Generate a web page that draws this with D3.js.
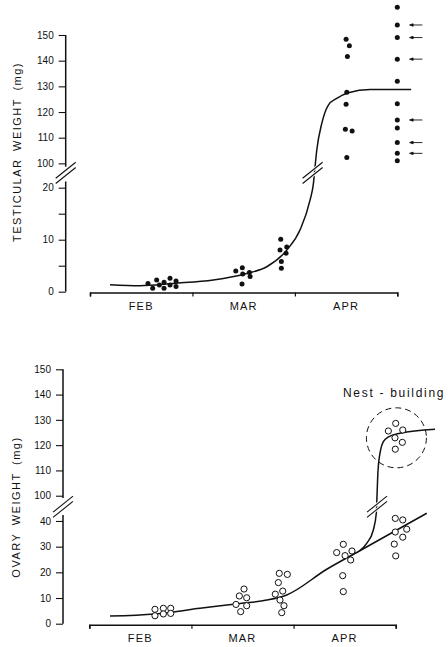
<!DOCTYPE html>
<html>
<head>
<meta charset="utf-8">
<script src="https://cdn.jsdelivr.net/npm/d3@7"></script>
<style>
  body { margin: 0; background: #fff; }
  svg { display: block; font-family: "Liberation Sans", Arial, sans-serif; }
</style>
</head>
<body>
<div id="chart"></div>
<script>
const monthLabels = ["FEB", "MAR", "APR"];
const monthTicks = [0, 1, 2, 3];

const testisTicks = [0, 5, 10, 15, 20, 100, 110, 120, 130, 140, 150];
const ovaryTicks = [0, 10, 20, 30, 40, 100, 110, 120, 130, 140, 150];

// [month position, weight mg]
const testisDots = [
  [0.566, 1.6], [0.612, 0.65], [0.651, 2.25], [0.677, 1.3], [0.723, 1.8],
  [0.723, 0.65], [0.781, 2.6], [0.781, 1.3], [0.84, 2.05], [0.84, 1.0],
  [1.423, 4.0], [1.487, 4.6], [1.491, 3.4], [1.556, 3.7], [1.563, 2.9], [1.484, 1.5],
  [1.862, 10.1], [1.855, 8.0], [1.921, 8.6], [1.914, 7.4], [1.868, 5.8], [1.868, 4.5],
  [2.5, 148.3], [2.532, 145.8], [2.513, 141.6], [2.507, 127.7], [2.5, 123.0],
  [2.493, 113.3], [2.559, 112.6], [2.507, 102.3],
  [3.0, 160.8], [3.0, 153.9], [3.0, 149.0], [3.0, 140.6], [3.0, 132.0], [3.0, 123.2],
  [3.0, 116.9], [3.0, 113.8], [3.0, 108.1], [3.0, 103.9], [3.0, 101.0]
];
const testisArrows = [153.9, 149.0, 140.6, 116.9, 108.1, 103.9];
const testisCurve = [
  [0.195, 1.35], [0.488, 1.15], [0.813, 1.6], [1.204, 2.25], [1.53, 3.5],
  [1.726, 4.8], [1.921, 8.0], [2.051, 11.9], [2.148, 17.6], [2.181, 20.8],
  [2.197, 98.7], [2.214, 105.2], [2.263, 115.6], [2.327, 122.7], [2.409, 125.3],
  [2.522, 127.5], [2.734, 128.8], [3.135, 128.8]
];

const ovaryDots = [
  [0.643, 5.6], [0.643, 3.1], [0.725, 6.0], [0.725, 3.8], [0.797, 6.0], [0.797, 4.0],
  [1.436, 7.5], [1.469, 10.8], [1.515, 13.5], [1.541, 10.1], [1.541, 7.0], [1.482, 4.7],
  [1.860, 19.6], [1.939, 19.2], [1.851, 16.0], [1.894, 12.7], [1.821, 11.5],
  [1.867, 9.2], [1.906, 7.0], [1.884, 4.3],
  [2.422, 27.7], [2.487, 30.9], [2.504, 26.5], [2.572, 28.3], [2.559, 24.8],
  [2.481, 18.7], [2.487, 12.5],
  [2.996, 41.0], [3.069, 40.4], [2.996, 35.7], [3.108, 36.8], [2.986, 31.0],
  [3.069, 33.7], [3.0, 26.4],
  [3.0, 128.6], [2.928, 125.6], [3.069, 126.0], [2.993, 122.9], [3.065, 121.1], [2.996, 118.4]
];
const ovaryCurve = [
  [0.203, 3.0], [0.643, 3.8], [1.084, 6.0], [1.476, 7.9], [1.737, 9.2],
  [1.933, 11.2], [2.325, 21.2], [2.644, 28.3], [3.304, 43.0]
];
const ovaryBranch = [
  [2.644, 28.3], [2.716, 31.3], [2.781, 36.5], [2.81, 43.0], [2.817, 100],
  [2.827, 110], [2.852, 118], [2.881, 121.5], [2.93, 123.3], [3.042, 124.7], [3.385, 126.3]
];
const nestCentre = [3.007, 122.9];

const W = 448, H = 647;
const ink = "#111";

const svg = d3.select("#chart").append("svg")
  .attr("width", W)
  .attr("height", H);

function breakMark(g, cx, cy, half) {
  [-2.6, 2.6].forEach(off => {
    g.append("line")
      .attr("x1", cx - half).attr("y1", cy + half * 0.8 + off)
      .attr("x2", cx + half).attr("y2", cy - half * 0.8 + off)
      .attr("stroke", "#fff").attr("stroke-width", 3);
  });
  [-2.6, 2.6].forEach(off => {
    g.append("line")
      .attr("x1", cx - half).attr("y1", cy + half * 0.8 + off)
      .attr("x2", cx + half).attr("y2", cy - half * 0.8 + off)
      .attr("stroke", ink).attr("stroke-width", 1.1);
  });
}

function panel(o) {
  const g = svg.append("g");
  const x = o.x, y = o.y;

  // y axis, two pieces
  const ax = g.append("g")
    .attr("transform", `translate(${o.axisX},0)`)
    .call(d3.axisLeft(y).tickValues(o.yTicks).tickSize(7).tickPadding(5)
      .tickFormat(d => d % 10 === 0 ? d : ""));
  ax.select(".domain").remove();
  ax.selectAll("line").attr("stroke", ink).attr("stroke-width", 1.1);
  ax.selectAll("text").attr("font-size", 10).attr("fill", ink);

  [[0, o.lowTop], [o.highBottom, 150]].forEach(([a, b]) => {
    g.append("line")
      .attr("x1", o.axisX).attr("x2", o.axisX)
      .attr("y1", y(a)).attr("y2", y(b))
      .attr("stroke", ink).attr("stroke-width", 1.5);
  });
  breakMark(g, o.axisX, y(o.gapMid), 10);

  // x axis
  const bx = g.append("g")
    .attr("transform", `translate(0,${o.axisY})`)
    .call(d3.axisBottom(x).tickValues(monthTicks).tickSize(4).tickFormat(""));
  bx.select(".domain").attr("stroke", ink).attr("stroke-width", 1.5);
  bx.selectAll("line").attr("stroke", ink).attr("stroke-width", 1.2);

  g.selectAll(".month")
    .data(monthLabels)
    .enter().append("text")
    .attr("x", (d, i) => x(i + 0.5))
    .attr("y", o.axisY + 17)
    .attr("text-anchor", "middle")
    .attr("font-size", 11)
    .attr("letter-spacing", 1.2)
    .attr("fill", ink)
    .text(d => d);

  g.append("text")
    .attr("transform", `translate(${o.titleX},${o.titleY}) rotate(-90)`)
    .attr("text-anchor", "middle")
    .attr("dy", "0.35em")
    .attr("font-size", 11)
    .attr("letter-spacing", o.titleSpacing)
    .attr("word-spacing", 3)
    .attr("fill", ink)
    .text(o.title);

  const line = d3.line()
    .x(d => x(d[0]))
    .y(d => y(d[1]))
    .curve(d3.curveMonotoneX);

  o.curves.forEach(c => {
    g.append("path")
      .datum(c)
      .attr("d", line)
      .attr("fill", "none")
      .attr("stroke", ink)
      .attr("stroke-width", 1.5);
  });
  breakMark(g, x(o.curveBreakX), y(o.gapMid), 10);

  return g;
}

// ---- testis ----
const xT = d3.scaleLinear().domain([0, 3]).range([90, 397.3]);
const yT = d3.scaleLinear().domain([0, 22, 98, 150]).range([291.7, 177.3, 168.5, 35]);

const gT = panel({
  x: xT, y: yT, axisX: 65.7, axisY: 292.5,
  yTicks: testisTicks, lowTop: 21.2, highBottom: 98.7, gapMid: 60,
  title: "TESTICULAR WEIGHT (mg)", titleX: 17.5, titleY: 152, titleSpacing: 1.5,
  curves: [testisCurve], curveBreakX: 2.173
});

gT.selectAll(".dot")
  .data(testisDots)
  .enter().append("circle")
  .attr("cx", d => xT(d[0]))
  .attr("cy", d => yT(d[1]))
  .attr("r", 2.5)
  .attr("fill", ink);

gT.selectAll(".arrow")
  .data(testisArrows)
  .enter().append("path")
  .attr("d", d => {
    const x0 = xT(3.12), x1 = xT(3.245), yy = yT(d);
    return `M${x1},${yy}H${x0 + 2}M${x0},${yy}l3.5,-1.2v2.4z`;
  })
  .attr("stroke", ink)
  .attr("stroke-width", 0.9)
  .attr("fill", ink);

// ---- ovary ----
const xO = d3.scaleLinear().domain([0, 3]).range([89.3, 395.7]);
const yO = d3.scaleLinear().domain([0, 44, 97, 150]).range([623.7, 510.7, 503.3, 369.3]);

const gO = panel({
  x: xO, y: yO, axisX: 63, axisY: 624.7,
  yTicks: ovaryTicks, lowTop: 42.3, highBottom: 99.1, gapMid: 72,
  title: "OVARY WEIGHT (mg)", titleX: 16, titleY: 507, titleSpacing: 1.5,
  curves: [ovaryCurve, ovaryBranch], curveBreakX: 2.817
});

gO.selectAll(".odot")
  .data(ovaryDots)
  .enter().append("circle")
  .attr("cx", d => xO(d[0]))
  .attr("cy", d => yO(d[1]))
  .attr("r", 3.1)
  .attr("fill", "#fff")
  .attr("stroke", ink)
  .attr("stroke-width", 1);

gO.append("circle")
  .attr("cx", xO(nestCentre[0]))
  .attr("cy", yO(nestCentre[1]))
  .attr("r", 30)
  .attr("fill", "none")
  .attr("stroke", ink)
  .attr("stroke-width", 1)
  .attr("stroke-dasharray", "6,4");

gO.append("text")
  .attr("x", 343)
  .attr("y", 397)
  .attr("font-size", 12)
  .attr("letter-spacing", 1.7)
  .attr("fill", ink)
  .text("Nest - building");
</script>
</body>
</html>
